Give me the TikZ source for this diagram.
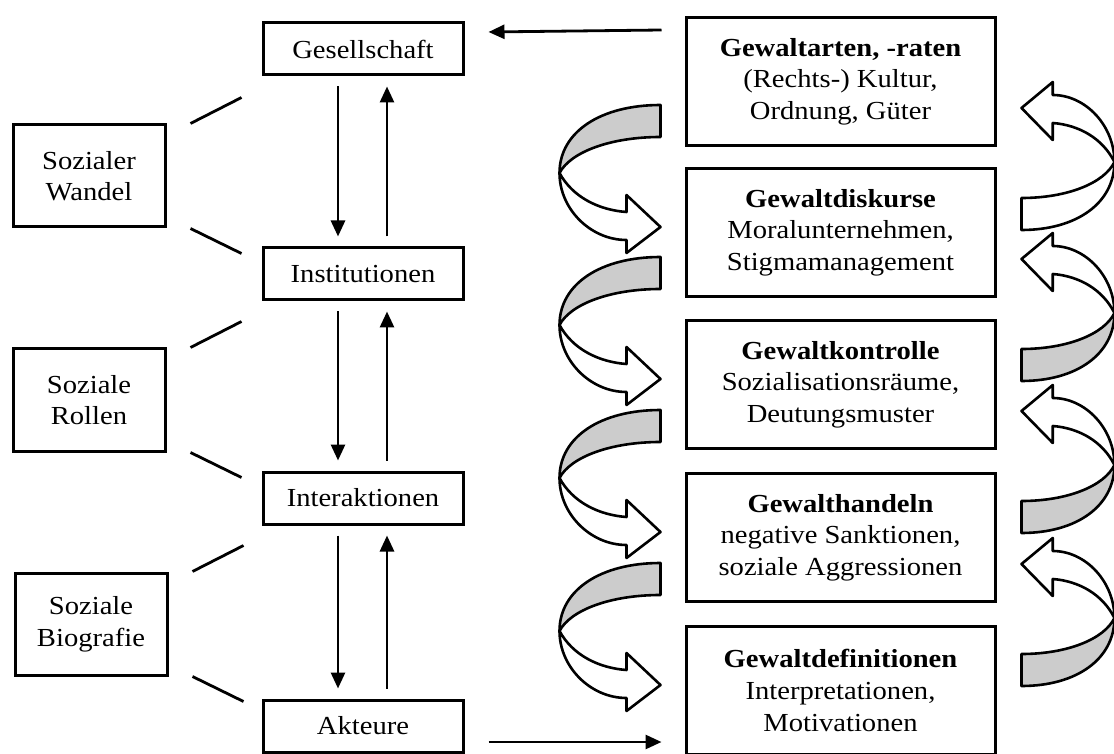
\documentclass[tikz,border=0pt]{standalone}
\usepackage{fontspec}
\setmainfont{Liberation Serif}[FakeStretch=1.1]
\usetikzlibrary{arrows.meta,calc}
\definecolor{shade}{gray}{0.8}
\begin{document}
\begin{tikzpicture}[x=0.5pt,y=-0.5pt,
  txt/.style={font=\fontsize{13}{15.8}\selectfont},
  boxbase/.style={draw, line width=1.5pt, align=center, inner sep=0pt, txt},
  midbox/.style={boxbase, minimum width=100pt, minimum height=26pt},
  sidebox/.style={boxbase, minimum width=76pt, minimum height=51pt},
  rbox/.style={boxbase, minimum width=154.5pt, minimum height=64pt},
  arr/.style={line width=1.4pt, -{Triangle[length=8pt,width=7pt]}},
  tie/.style={line width=1.4pt},
  swirlline/.style={draw, line width=1.3pt, line join=round},
  swirlshade/.style={fill=shade},
  swirl/.pic={
    \filldraw[swirlline, swirlshade] (0,-122) .. controls (-60,-122) and (-101,-95) .. (-101,-54)
      .. controls (-90,-75) and (-50,-90) .. (0,-90) -- cycle;
    \filldraw[swirlline, fill=white] (-101,-54) .. controls (-101,-18) and (-70,13) .. (-34,13)
      -- (-34,26) -- (0,0) -- (-34,-32) -- (-34,-15)
      .. controls (-62,-17) and (-88,-30) .. (-101,-54) -- cycle;
  }
]
\useasboundingbox (0,0) rectangle (1114,754);
\clip (0,0) rectangle (1114,754);

% middle column
\node[midbox] (g)  at (363,49)  {Gesellschaft};
\node[midbox] (i)  at (363,274) {Institutionen};
\node[midbox] (ia) at (363,498) {Interaktionen};
\node[midbox] (ak) at (363,726) {Akteure};

% left column
\node[sidebox] (sw) at (89,176) {Sozialer\\Wandel};
\node[sidebox] (sr) at (89,400) {Soziale\\Rollen};
\node[sidebox] (sb) at (91,624) {Soziale\\Biografie};

% right column
\node[rbox] (r1) at (840.5,81.5)  {\textbf{Gewaltarten, -raten}\\(Rechts-) Kultur,\\Ordnung, Güter};
\node[rbox] (r2) at (840.5,232.5) {\textbf{Gewaltdiskurse}\\Moralunternehmen,\\Stigmamanagement};
\node[rbox] (r3) at (840.5,384.5) {\textbf{Gewaltkontrolle}\\Sozialisationsräume,\\Deutungsmuster};
\node[rbox] (r4) at (840.5,537.5) {\textbf{Gewalthandeln}\\negative Sanktionen,\\soziale Aggressionen};
\node[rbox] (r5) at (840.5,690.5) {\textbf{Gewaltdefinitionen}\\Interpretationen,\\Motivationen};

% vertical arrows
\foreach \a/\b in {g/i, i/ia, ia/ak}{
  \draw[arr] ($(\a.south)+(-25,10)$) -- ($(\b.north)+(-25,-10)$);
  \draw[arr] ($(\b.north)+(24,-10)$) -- ($(\a.south)+(24,10)$);
}

% ties from side boxes
\foreach \s in {sw, sr, sb}{
  \draw[tie] ($(\s.north east)+(24,0)$) -- ($(\s.north east)+(75,-26)$);
  \draw[tie] ($(\s.south east)+(24,0)$) -- ($(\s.south east)+(75,25)$);
}

% horizontal arrows
\draw[arr] ($(r1.north west)+(-23,14)$) -- ($(g.east)+(24,-17)$);
\draw[arr] ($(ak.east)+(24,16)$) -- ($(r5.west)+(-23,51.5)$);

% left swirl arrows
\foreach \b in {r2,r3,r4,r5}{
  \pic at ($(\b.west)+(-24,-5.5)$) {swirl};
}
% right swirl arrows
\pic[rotate=180, xscale=0.92, swirlshade/.style={fill=white}] at ($(r1.east)+(25,26.5)$) {swirl};
\foreach \b in {r2,r3,r4}{
  \pic[rotate=180, xscale=0.92] at ($(\b.east)+(25,26.5)$) {swirl};
}
\end{tikzpicture}
\end{document}
